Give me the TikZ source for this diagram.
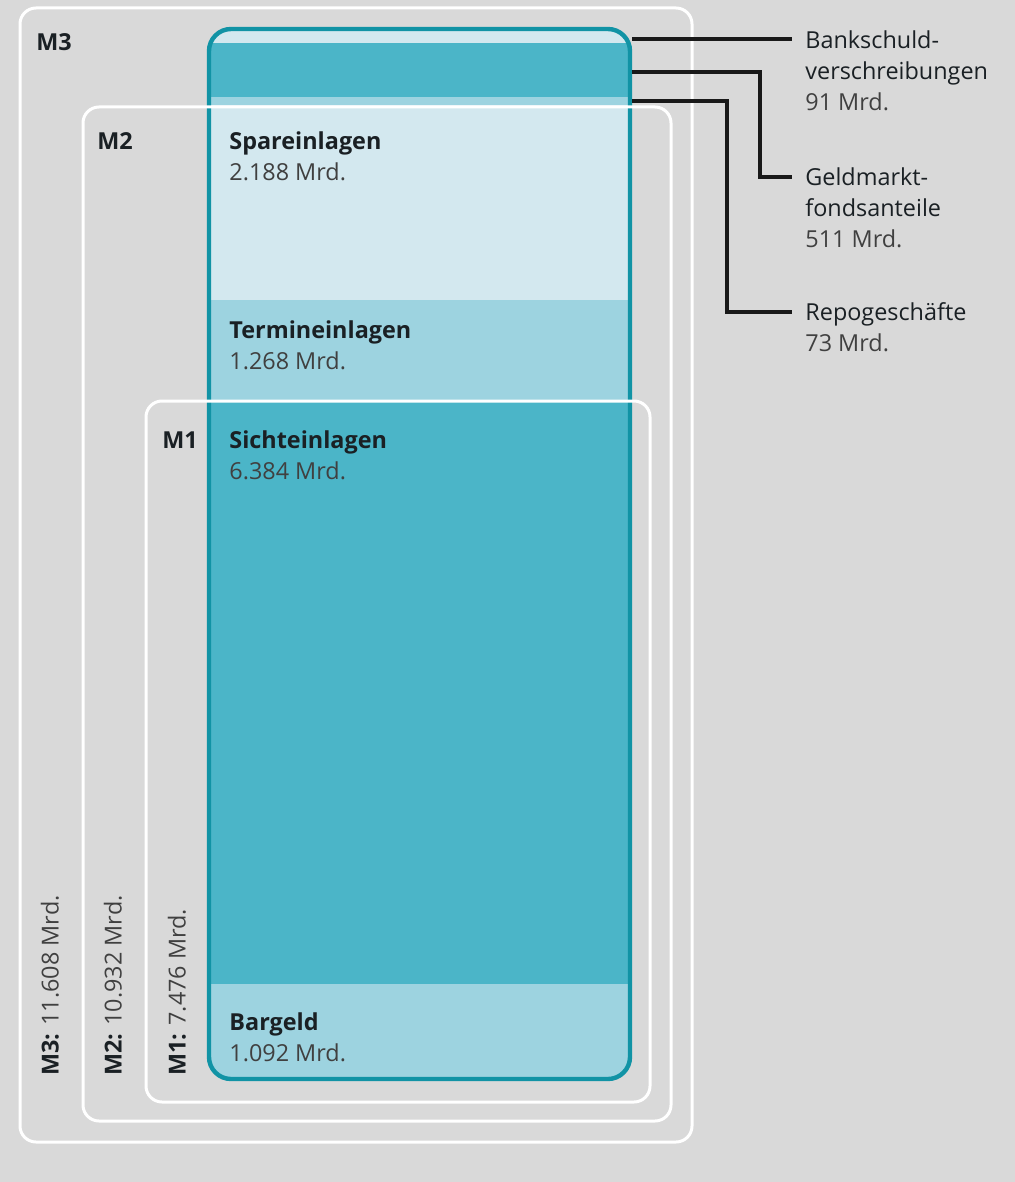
\documentclass[tikz,border=0pt]{standalone}
\usepackage{fontspec}
\setmainfont{Open Sans}
\definecolor{bggray}{HTML}{D9D9D9}
\definecolor{tealline}{HTML}{1193A5}
\definecolor{tealdark}{HTML}{4BB5C8}
\definecolor{tealmid}{HTML}{9DD3E0}
\definecolor{tealpale}{HTML}{D3E8EF}
\definecolor{txtdark}{HTML}{1A2024}
\definecolor{txtnum}{HTML}{404040}
\newcommand\lblfont{\fontsize{11.7}{15.5}\selectfont}
\begin{document}
\begin{tikzpicture}[x=0.5pt, y=-0.5pt,
        mbox/.style={draw=white, line width=1.5pt, rounded corners=8pt},
        seglbl/.style={anchor=north west, align=left, inner sep=0pt, font=\lblfont, text=txtdark},
        sidelbl/.style={anchor=north west, align=left, inner xsep=6.5pt, inner ysep=0pt, font=\lblfont, text=txtdark},
        mlbl/.style={inner sep=0pt, font=\lblfont\bfseries, text=txtdark},
        sumlbl/.style={rotate=90, anchor=west, inner sep=0pt, font=\lblfont, text=txtnum},
        conn/.style={draw=black!90, line width=1.8pt}]
        \fill[bggray] (0,0) rectangle (1015,1182);
        \useasboundingbox (0,0) rectangle (1015,1182);
        \begin{scope}
        \clip[rounded corners=11pt] (209,29) rectangle (630,1079);
        \foreach \ya/\yb/\col in {29/43/tealpale, 43/97/tealdark, 97/105/tealmid, 105/300/tealpale,
                300/400/tealmid, 400/984/tealdark, 984/1079/tealmid}
            \fill[\col] (209,\ya) rectangle (630,\yb);
        \end{scope}
        \draw[tealline, line width=2.2pt, rounded corners=11pt] (209,29) rectangle (630,1079);
        \draw[mbox] (20,8) rectangle (692,1142);
        \draw[mbox] (83,107) rectangle (671,1121);
        \draw[mbox] (146,401) rectangle (650,1102);
        \node[mlbl] (m3) at (54,42) {M3};
        \node[mlbl] (m2) at (115,141) {M2};
        \node[mlbl] (m1) at (180,440) {M1};
        \node[sumlbl] (m3sum) at (50,1076) {\textbf{\color{txtdark}M3:} 11.608 Mrd.};
        \node[sumlbl] (m2sum) at (113,1076) {\textbf{\color{txtdark}M2:} 10.932 Mrd.};
        \node[sumlbl] (m1sum) at (177,1076) {\textbf{\color{txtdark}M1:} 7.476 Mrd.};
        \node[seglbl] (spare) at (229,131) {\textbf{Spareinlagen}\\\color{txtnum}2.188 Mrd.};
        \node[seglbl] (termin) at (229,320) {\textbf{Termineinlagen}\\\color{txtnum}1.268 Mrd.};
        \node[seglbl] (sicht) at (229,430) {\textbf{Sichteinlagen}\\\color{txtnum}6.384 Mrd.};
        \node[seglbl] (bargeld) at (229,1012) {\textbf{Bargeld}\\\color{txtnum}1.092 Mrd.};
        \node[sidelbl] (bank) at (792,30) {Bankschuld-\\verschreibungen\\\color{txtnum}91 Mrd.};
        \node[sidelbl] (geld) at (792,167) {Geldmarkt-\\fondsanteile\\\color{txtnum}511 Mrd.};
        \node[sidelbl] (repo) at (792,302) {Repogeschäfte\\\color{txtnum}73 Mrd.};
        \coordinate (bankPt) at (632,39);
        \coordinate (geldPt) at (632,72);
        \coordinate (repoPt) at (632,101);
        \coordinate (geldKnee) at (760,177);
        \coordinate (repoKnee) at (727,312);
        \draw[conn] (bankPt) -- (bankPt -| bank.west);
        \draw[conn] (geldPt) -| (geldKnee) -- (geldKnee -| geld.west);
        \draw[conn] (repoPt) -| (repoKnee) -- (repoKnee -| repo.west);
\end{tikzpicture}
\end{document}
